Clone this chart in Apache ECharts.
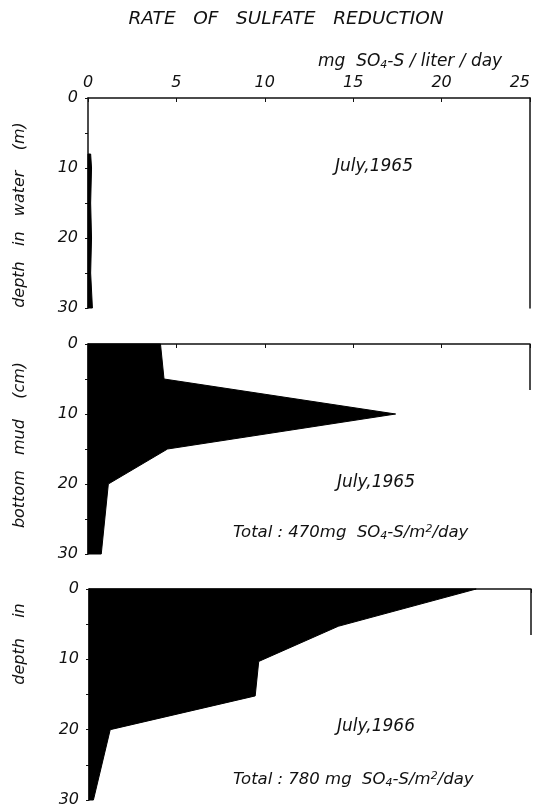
<!DOCTYPE html>
<html>
<head>
<meta charset="utf-8">
<script src="https://cdn.jsdelivr.net/npm/echarts@6/dist/echarts.min.js"></script>
<style>
html,body{margin:0;padding:0;background:#fff;}
#c{width:538px;height:810px;}
</style>
</head>
<body>
<div id="c"></div>
<script>
// ---- data ----
const rateTicks = [0, 5, 10, 15, 20, 25];      // mg SO4-S / liter / day
const depthTicks = [0, 10, 20, 30];
// Panel 1: water column, July 1965 (depth in m)
const waterDepth = [8, 10, 15, 20, 25, 30];
const waterRate  = [0.15, 0.2, 0.15, 0.2, 0.15, 0.25];
// Panel 2: bottom mud, July 1965 (depth in cm)
const mud1965Depth = [0, 5, 10, 15, 20, 30];
const mud1965Rate  = [4.1, 4.3, 17.4, 4.5, 1.15, 0.75];
// Panel 3: bottom mud, July 1966 (depth in cm)
const mud1966Depth = [0, 5.3, 10.3, 15.2, 20, 30];
const mud1966Rate  = [21.9, 14.1, 9.6, 9.4, 1.2, 0.25];

const FONT = 'DejaVu Sans';
const INK = '#111';

const chart = echarts.init(document.getElementById('c'), null, {renderer: 'canvas'});

function polyRenderer(rates, depths) {
  return function (params, api) {
    if (params.dataIndex !== 0) return null;
    const pts = [api.coord([0, depths[0]])];
    for (let i = 0; i < rates.length; i++) pts.push(api.coord([rates[i], depths[i]]));
    pts.push(api.coord([0, depths[depths.length - 1]]));
    return {type: 'polygon', shape: {points: pts}, style: {fill: '#000', stroke: '#000', lineWidth: 1}};
  };
}

const grids = [
  {left: 88, top: 98, width: 442, height: 210, outerBoundsMode: 'none', containLabel: false},
  {left: 88, top: 344, width: 442, height: 210, outerBoundsMode: 'none', containLabel: false},
  {left: 89, top: 589, width: 442, height: 211, outerBoundsMode: 'none', containLabel: false}
];

const xAxes = grids.map((g, i) => ({
  type: 'value', gridIndex: i, position: 'top', min: rateTicks[0], max: rateTicks[rateTicks.length - 1], interval: 5,
  axisLine: {show: true, onZero: false, lineStyle: {color: INK, width: 1.5}},
  axisTick: {show: true, inside: true, length: 4, lineStyle: {color: INK}},
  axisLabel: {show: i === 0, fontStyle: 'italic', fontSize: 16, color: INK, fontFamily: FONT, margin: 7,
    alignMaxLabel: 'right'},
  splitLine: {show: false}
}));

const yAxes = [];
grids.forEach((g, i) => {
  yAxes.push({
    type: 'value', gridIndex: i, inverse: true, min: depthTicks[0], max: depthTicks[depthTicks.length - 1], interval: 5,
    axisLine: {show: true, onZero: false, lineStyle: {color: INK, width: 1.5}},
    axisTick: {show: true, length: 3, lineStyle: {color: INK}},
    axisLabel: {fontStyle: 'italic', fontSize: 16, color: INK, fontFamily: FONT, margin: 10,
      formatter: v => depthTicks.indexOf(v) >= 0 ? String(v) : ''},
    splitLine: {show: false}
  });
});
// right-hand border of the top panel
yAxes.push({
  type: 'value', gridIndex: 0, position: 'right', inverse: true, min: 0, max: 30,
  axisLine: {show: true, onZero: false, lineStyle: {color: INK, width: 1.5}},
  axisTick: {show: false}, axisLabel: {show: false}, splitLine: {show: false}
});

const txt = (x, y, text, opts) => Object.assign({
  type: 'text', x: x, y: y,
  style: Object.assign({text: text, fill: INK, font: 'italic 17px "' + FONT + '"', align: 'center', verticalAlign: 'middle'}, opts || {})
});

const richSub = {
  sub: {fontSize: 11, fontStyle: 'italic', fontFamily: FONT, fill: INK, padding: [7, 0, 0, 0]},
  sup: {fontSize: 11, fontStyle: 'italic', fontFamily: FONT, fill: INK, padding: [0, 0, 7, 0]}
};

const option = {
  backgroundColor: '#fff',
  animation: false,
  grid: grids,
  xAxis: xAxes,
  yAxis: yAxes,
  series: [
    {type: 'custom', xAxisIndex: 0, yAxisIndex: 0, data: waterRate.map((r, i) => [r, waterDepth[i]]),
      renderItem: polyRenderer(waterRate, waterDepth), encode: {x: 0, y: 1}},
    {type: 'custom', xAxisIndex: 1, yAxisIndex: 1, data: mud1965Rate.map((r, i) => [r, mud1965Depth[i]]),
      renderItem: polyRenderer(mud1965Rate, mud1965Depth), encode: {x: 0, y: 1}},
    {type: 'custom', xAxisIndex: 2, yAxisIndex: 2, data: mud1966Rate.map((r, i) => [r, mud1966Depth[i]]),
      renderItem: polyRenderer(mud1966Rate, mud1966Depth), encode: {x: 0, y: 1}}
  ],
  graphic: [
    txt(286, 19, 'RATE   OF   SULFATE   REDUCTION', {font: 'italic 18.5px "' + FONT + '"'}),
    {type: 'text', x: 318, y: 62, style: {
      text: 'mg  SO{sub|4}-S / liter / day', rich: richSub, fill: INK,
      font: 'italic 17px "' + FONT + '"', align: 'left', verticalAlign: 'middle'}},
    txt(374, 167, 'July,1965'),
    txt(376, 483, 'July,1965'),
    {type: 'text', x: 233, y: 533, style: {
      text: 'Total : 470mg  SO{sub|4}-S/m{sup|2}/day', rich: richSub, fill: INK,
      font: 'italic 16.5px "' + FONT + '"', align: 'left', verticalAlign: 'middle'}},
    txt(376, 727, 'July,1966'),
    {type: 'text', x: 233, y: 780, style: {
      text: 'Total : 780 mg  SO{sub|4}-S/m{sup|2}/day', rich: richSub, fill: INK,
      font: 'italic 16.5px "' + FONT + '"', align: 'left', verticalAlign: 'middle'}},
    // short right-hand corner marks of the lower two panels
    {type: 'line', shape: {x1: 530, y1: 344, x2: 530, y2: 390}, style: {stroke: INK, lineWidth: 1.5}},
    {type: 'line', shape: {x1: 531, y1: 589, x2: 531, y2: 635}, style: {stroke: INK, lineWidth: 1.5}},
    {type: 'text', x: 20, y: 215, rotation: Math.PI / 2, style: {
      text: 'depth   in   water    (m)', fill: INK, font: 'italic 16px "' + FONT + '"', align: 'center', verticalAlign: 'middle'}},
    {type: 'text', x: 20, y: 445, rotation: Math.PI / 2, style: {
      text: 'bottom   mud    (cm)', fill: INK, font: 'italic 16px "' + FONT + '"', align: 'center', verticalAlign: 'middle'}},
    {type: 'text', x: 20, y: 644, rotation: Math.PI / 2, style: {
      text: 'depth    in', fill: INK, font: 'italic 16px "' + FONT + '"', align: 'center', verticalAlign: 'middle'}}
  ]
};
chart.setOption(option);
</script>
</body>
</html>
